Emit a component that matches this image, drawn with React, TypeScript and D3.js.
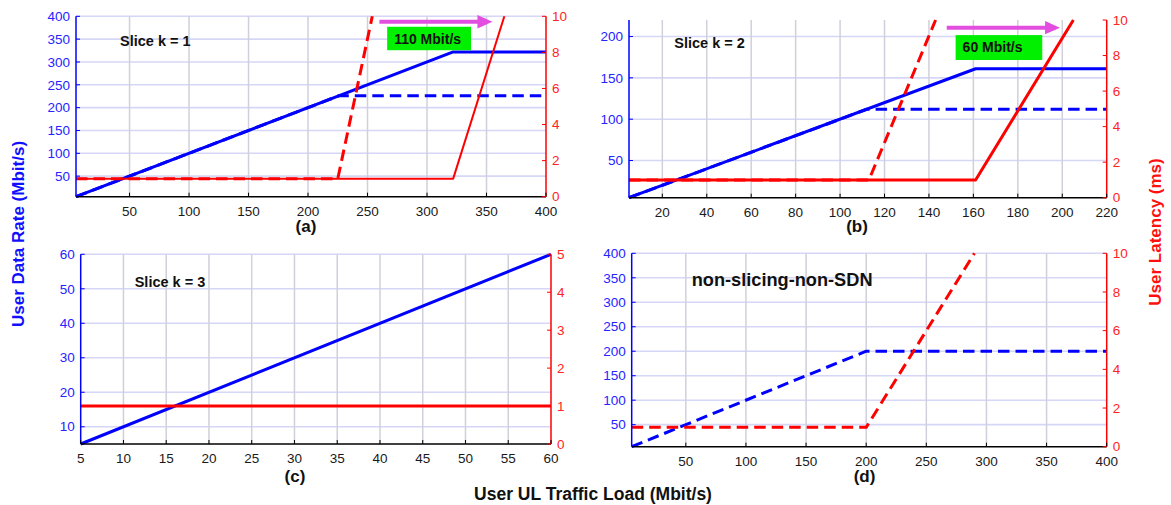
import React from 'react';
import * as d3 from 'd3';

const FONT = '"Liberation Sans", Arial, Helvetica, sans-serif';

type Pt = [number, number];

// ---- Panel (a): Slice k = 1 ----
const sliceOneRateSolid: Pt[] = [[5, 5], [322, 322], [400, 322]];
const sliceOneRateDashed: Pt[] = [[5, 5], [226, 226], [400, 226]];
const sliceOneLatSolid: Pt[] = [[5, 1], [322, 1], [365, 10]];
const sliceOneLatDashed: Pt[] = [[5, 1], [225, 1], [254, 10]];

// ---- Panel (b): Slice k = 2 ----
const sliceTwoRateSolid: Pt[] = [[5, 5], [161, 161], [220, 161]];
const sliceTwoRateDashed: Pt[] = [[5, 5], [112, 112], [220, 112]];
const sliceTwoLatSolid: Pt[] = [[5, 1], [161, 1], [205, 10]];
const sliceTwoLatDashed: Pt[] = [[5, 1], [113, 1], [143, 10]];

// ---- Panel (c): Slice k = 3 ----
const sliceThreeRate: Pt[] = [[5, 5], [60, 60]];
const sliceThreeLat: Pt[] = [[5, 1], [60, 1]];

// ---- Panel (d): non-slicing-non-SDN ----
const nonSlicingRate: Pt[] = [[5, 5], [200, 200], [400, 200]];
const nonSlicingLat: Pt[] = [[5, 1], [200, 1], [290, 10]];

// ---- Ticks ----
const xTicks400 = [50, 100, 150, 200, 250, 300, 350, 400];
const xTicks220 = [20, 40, 60, 80, 100, 120, 140, 160, 180, 200, 220];
const xTicks60 = [5, 10, 15, 20, 25, 30, 35, 40, 45, 50, 55, 60];
const yTicks400 = [50, 100, 150, 200, 250, 300, 350, 400];
const yTicks220 = [50, 100, 150, 200];
const yTicks60 = [10, 20, 30, 40, 50, 60];
const latTicks10 = [0, 2, 4, 6, 8, 10];
const latTicks5 = [0, 1, 2, 3, 4, 5];

// ---- Annotations (data coords: x load, y latency) ----
const arrowA = { x1: 260, x2: 355, y: 9.7 };
const boxA = { x1: 266.5, x2: 337, y1: 9.42, y2: 8.12, label: '110 Mbit/s' };
const arrowB = { x1: 148, x2: 199, y: 9.57 };
const boxB = { x1: 152, x2: 191, y1: 9.15, y2: 7.75, label: '60 Mbit/s' };

const BLUE = '#0000ff';
const RED = '#ff0000';

type Series = { pts: Pt[]; axis: 'rate' | 'lat'; color: string; dashed: boolean; width: number };

type PanelCfg = {
  left: number; right: number; top: number; bottom: number;
  xDomain: [number, number]; yDomain: [number, number]; y2Domain: [number, number];
  xTicks: number[]; yTicks: number[]; y2Ticks: number[];
  series: Series[];
  title: string; titleX: number; titleY: number; titleSize: number;
  sub: string; subX: number; subY: number;
  arrow?: { x1: number; x2: number; y: number };
  box?: { x1: number; x2: number; y1: number; y2: number; label: string };
};

const panels: PanelCfg[] = [
  {
    left: 76, right: 546, top: 16.3, bottom: 196.7,
    xDomain: [5, 400], yDomain: [5, 400], y2Domain: [0, 10],
    xTicks: xTicks400, yTicks: yTicks400, y2Ticks: latTicks10,
    series: [
      { pts: sliceOneRateDashed, axis: 'rate', color: BLUE, dashed: true, width: 3 },
      { pts: sliceOneRateSolid, axis: 'rate', color: BLUE, dashed: false, width: 3 },
      { pts: sliceOneLatSolid, axis: 'lat', color: RED, dashed: false, width: 2 },
      { pts: sliceOneLatDashed, axis: 'lat', color: RED, dashed: true, width: 3 },
    ],
    title: 'Slice k = 1', titleX: 120, titleY: 45.5, titleSize: 14.5,
    sub: '(a)', subX: 306, subY: 232,
    arrow: arrowA, box: boxA,
  },
  {
    left: 629, right: 1106.7, top: 20, bottom: 197.7,
    xDomain: [5, 220], yDomain: [5, 220], y2Domain: [0, 10],
    xTicks: xTicks220, yTicks: yTicks220, y2Ticks: latTicks10,
    series: [
      { pts: sliceTwoRateDashed, axis: 'rate', color: BLUE, dashed: true, width: 3 },
      { pts: sliceTwoRateSolid, axis: 'rate', color: BLUE, dashed: false, width: 3 },
      { pts: sliceTwoLatSolid, axis: 'lat', color: RED, dashed: false, width: 3 },
      { pts: sliceTwoLatDashed, axis: 'lat', color: RED, dashed: true, width: 3 },
    ],
    title: 'Slice k = 2', titleX: 674.3, titleY: 48, titleSize: 14.5,
    sub: '(b)', subX: 857, subY: 232,
    arrow: arrowB, box: boxB,
  },
  {
    left: 80.7, right: 551, top: 254.3, bottom: 444,
    xDomain: [5, 60], yDomain: [5, 60], y2Domain: [0, 5],
    xTicks: xTicks60, yTicks: yTicks60, y2Ticks: latTicks5,
    series: [
      { pts: sliceThreeRate, axis: 'rate', color: BLUE, dashed: false, width: 3 },
      { pts: sliceThreeLat, axis: 'lat', color: RED, dashed: false, width: 3 },
    ],
    title: 'Slice k = 3', titleX: 134.7, titleY: 286.5, titleSize: 14.5,
    sub: '(c)', subX: 295, subY: 482,
  },
  {
    left: 631.7, right: 1106.7, top: 253.3, bottom: 446.7,
    xDomain: [5, 400], yDomain: [5, 400], y2Domain: [0, 10],
    xTicks: xTicks400, yTicks: yTicks400, y2Ticks: latTicks10,
    series: [
      { pts: nonSlicingRate, axis: 'rate', color: BLUE, dashed: true, width: 3 },
      { pts: nonSlicingLat, axis: 'lat', color: RED, dashed: true, width: 3 },
    ],
    title: 'non-slicing-non-SDN', titleX: 691.7, titleY: 285.5, titleSize: 18.2,
    sub: '(d)', subX: 864.5, subY: 482,
  },
];

function Panel({ cfg }: { cfg: PanelCfg }) {
  const x = d3.scaleLinear().domain(cfg.xDomain).range([cfg.left, cfg.right]);
  const y = d3.scaleLinear().domain(cfg.yDomain).range([cfg.bottom, cfg.top]);
  const y2 = d3.scaleLinear().domain(cfg.y2Domain).range([cfg.bottom, cfg.top]);
  const tick = 4;
  return (
    <g>
      {cfg.yTicks.map((t) => (
        <line key={'hg' + t} x1={cfg.left} x2={cfg.right} y1={y(t)} y2={y(t)} stroke="#d6d6f6" strokeWidth={1.6} />
      ))}
      {cfg.xTicks.filter((t) => t > cfg.xDomain[0] && t < cfg.xDomain[1]).map((t) => (
        <line key={'vg' + t} x1={x(t)} x2={x(t)} y1={cfg.top} y2={cfg.bottom} stroke="#d0d0dc" strokeWidth={1.5} />
      ))}
      {cfg.series.map((s, i) => {
        const ys = s.axis === 'rate' ? y : y2;
        const path = d3.line<Pt>().x((d) => x(d[0])).y((d) => ys(d[1]))(s.pts) || '';
        return (
          <path key={'s' + i} d={path} fill="none" stroke={s.color} strokeWidth={s.width}
            strokeDasharray={s.dashed ? '11.5,6' : undefined} strokeLinejoin="round" />
        );
      })}
      <line x1={cfg.left} x2={cfg.right} y1={cfg.bottom} y2={cfg.bottom} stroke="#000" strokeWidth={1.5} />
      <line x1={cfg.left} x2={cfg.left} y1={cfg.top} y2={cfg.bottom} stroke={BLUE} strokeWidth={1.5} />
      <line x1={cfg.right} x2={cfg.right} y1={cfg.top} y2={cfg.bottom} stroke={RED} strokeWidth={1.5} />
      {cfg.xTicks.map((t) => (
        <g key={'xt' + t}>
          <line x1={x(t)} x2={x(t)} y1={cfg.bottom} y2={cfg.bottom - tick} stroke="#000" strokeWidth={1} />
          <text x={x(t)} y={cfg.bottom + 18.8} textAnchor="middle" fontSize={13.5} fill="#1a1a1a" fontFamily={FONT}>{t}</text>
        </g>
      ))}
      {cfg.yTicks.map((t) => (
        <g key={'yt' + t}>
          <line x1={cfg.left} x2={cfg.left + tick} y1={y(t)} y2={y(t)} stroke={BLUE} strokeWidth={1} />
          <text x={cfg.left - 6} y={y(t)} dy="0.35em" textAnchor="end" fontSize={13.5} fill="#2424ff" fontFamily={FONT}>{t}</text>
        </g>
      ))}
      {cfg.y2Ticks.map((t) => (
        <g key={'y2t' + t}>
          <line x1={cfg.right} x2={cfg.right - tick} y1={y2(t)} y2={y2(t)} stroke={RED} strokeWidth={1} />
          <text x={cfg.right + 6} y={y2(t)} dy="0.35em" textAnchor="start" fontSize={13.5} fill="#ff2424" fontFamily={FONT}>{t}</text>
        </g>
      ))}
      {cfg.arrow && (() => {
        const ax1 = x(cfg.arrow.x1), ax2 = x(cfg.arrow.x2), ay = y2(cfg.arrow.y);
        const head = 15;
        return (
          <g>
            <line x1={ax1} x2={ax2 - head + 1} y1={ay} y2={ay} stroke="#e24fe0" strokeWidth={4} />
            <path d={`M${ax2},${ay} L${ax2 - head},${ay - 6.7} L${ax2 - head},${ay + 6.7} Z`} fill="#e24fe0" />
          </g>
        );
      })()}
      {cfg.box && (() => {
        const bx1 = x(cfg.box.x1), bx2 = x(cfg.box.x2), by1 = y2(cfg.box.y1), by2 = y2(cfg.box.y2);
        return (
          <g>
            <rect x={bx1} y={by1} width={bx2 - bx1} height={by2 - by1} fill="#00f000" />
            <text x={bx1 + 7} y={by1 + 17} fontSize={14} fontWeight="bold" fill="#111" fontFamily={FONT}>{cfg.box.label}</text>
          </g>
        );
      })()}
      <text x={cfg.titleX} y={cfg.titleY} fontSize={cfg.titleSize} fontWeight="bold" fill="#111" fontFamily={FONT}>{cfg.title}</text>
      <text x={cfg.subX} y={cfg.subY} textAnchor="middle" fontSize={17} fontWeight="bold" fill="#111" fontFamily={FONT}>{cfg.sub}</text>
    </g>
  );
}

export default function App() {
  return (
    <div style={{ position: 'fixed', left: 0, top: 0, width: 1171, height: 505, background: '#fff' }}>
      <svg width={1171} height={505} viewBox="0 0 1171 505" style={{ display: 'block' }}>
        <rect x={0} y={0} width={1171} height={505} fill="#fff" />
        {panels.map((p, i) => <Panel key={i} cfg={p} />)}
        <text transform="translate(23.5,234) rotate(-90)" textAnchor="middle" fontSize={17} fontWeight="bold" fill="#1010ff" fontFamily={FONT}>User Data Rate (Mbit/s)</text>
        <text transform="translate(1161,232) rotate(-90)" textAnchor="middle" fontSize={17} fontWeight="bold" fill="#ff1010" fontFamily={FONT}>User Latency (ms)</text>
        <text x={593} y={500} textAnchor="middle" fontSize={17.5} fontWeight="bold" fill="#111" fontFamily={FONT}>User UL Traffic Load (Mbit/s)</text>
      </svg>
    </div>
  );
}
